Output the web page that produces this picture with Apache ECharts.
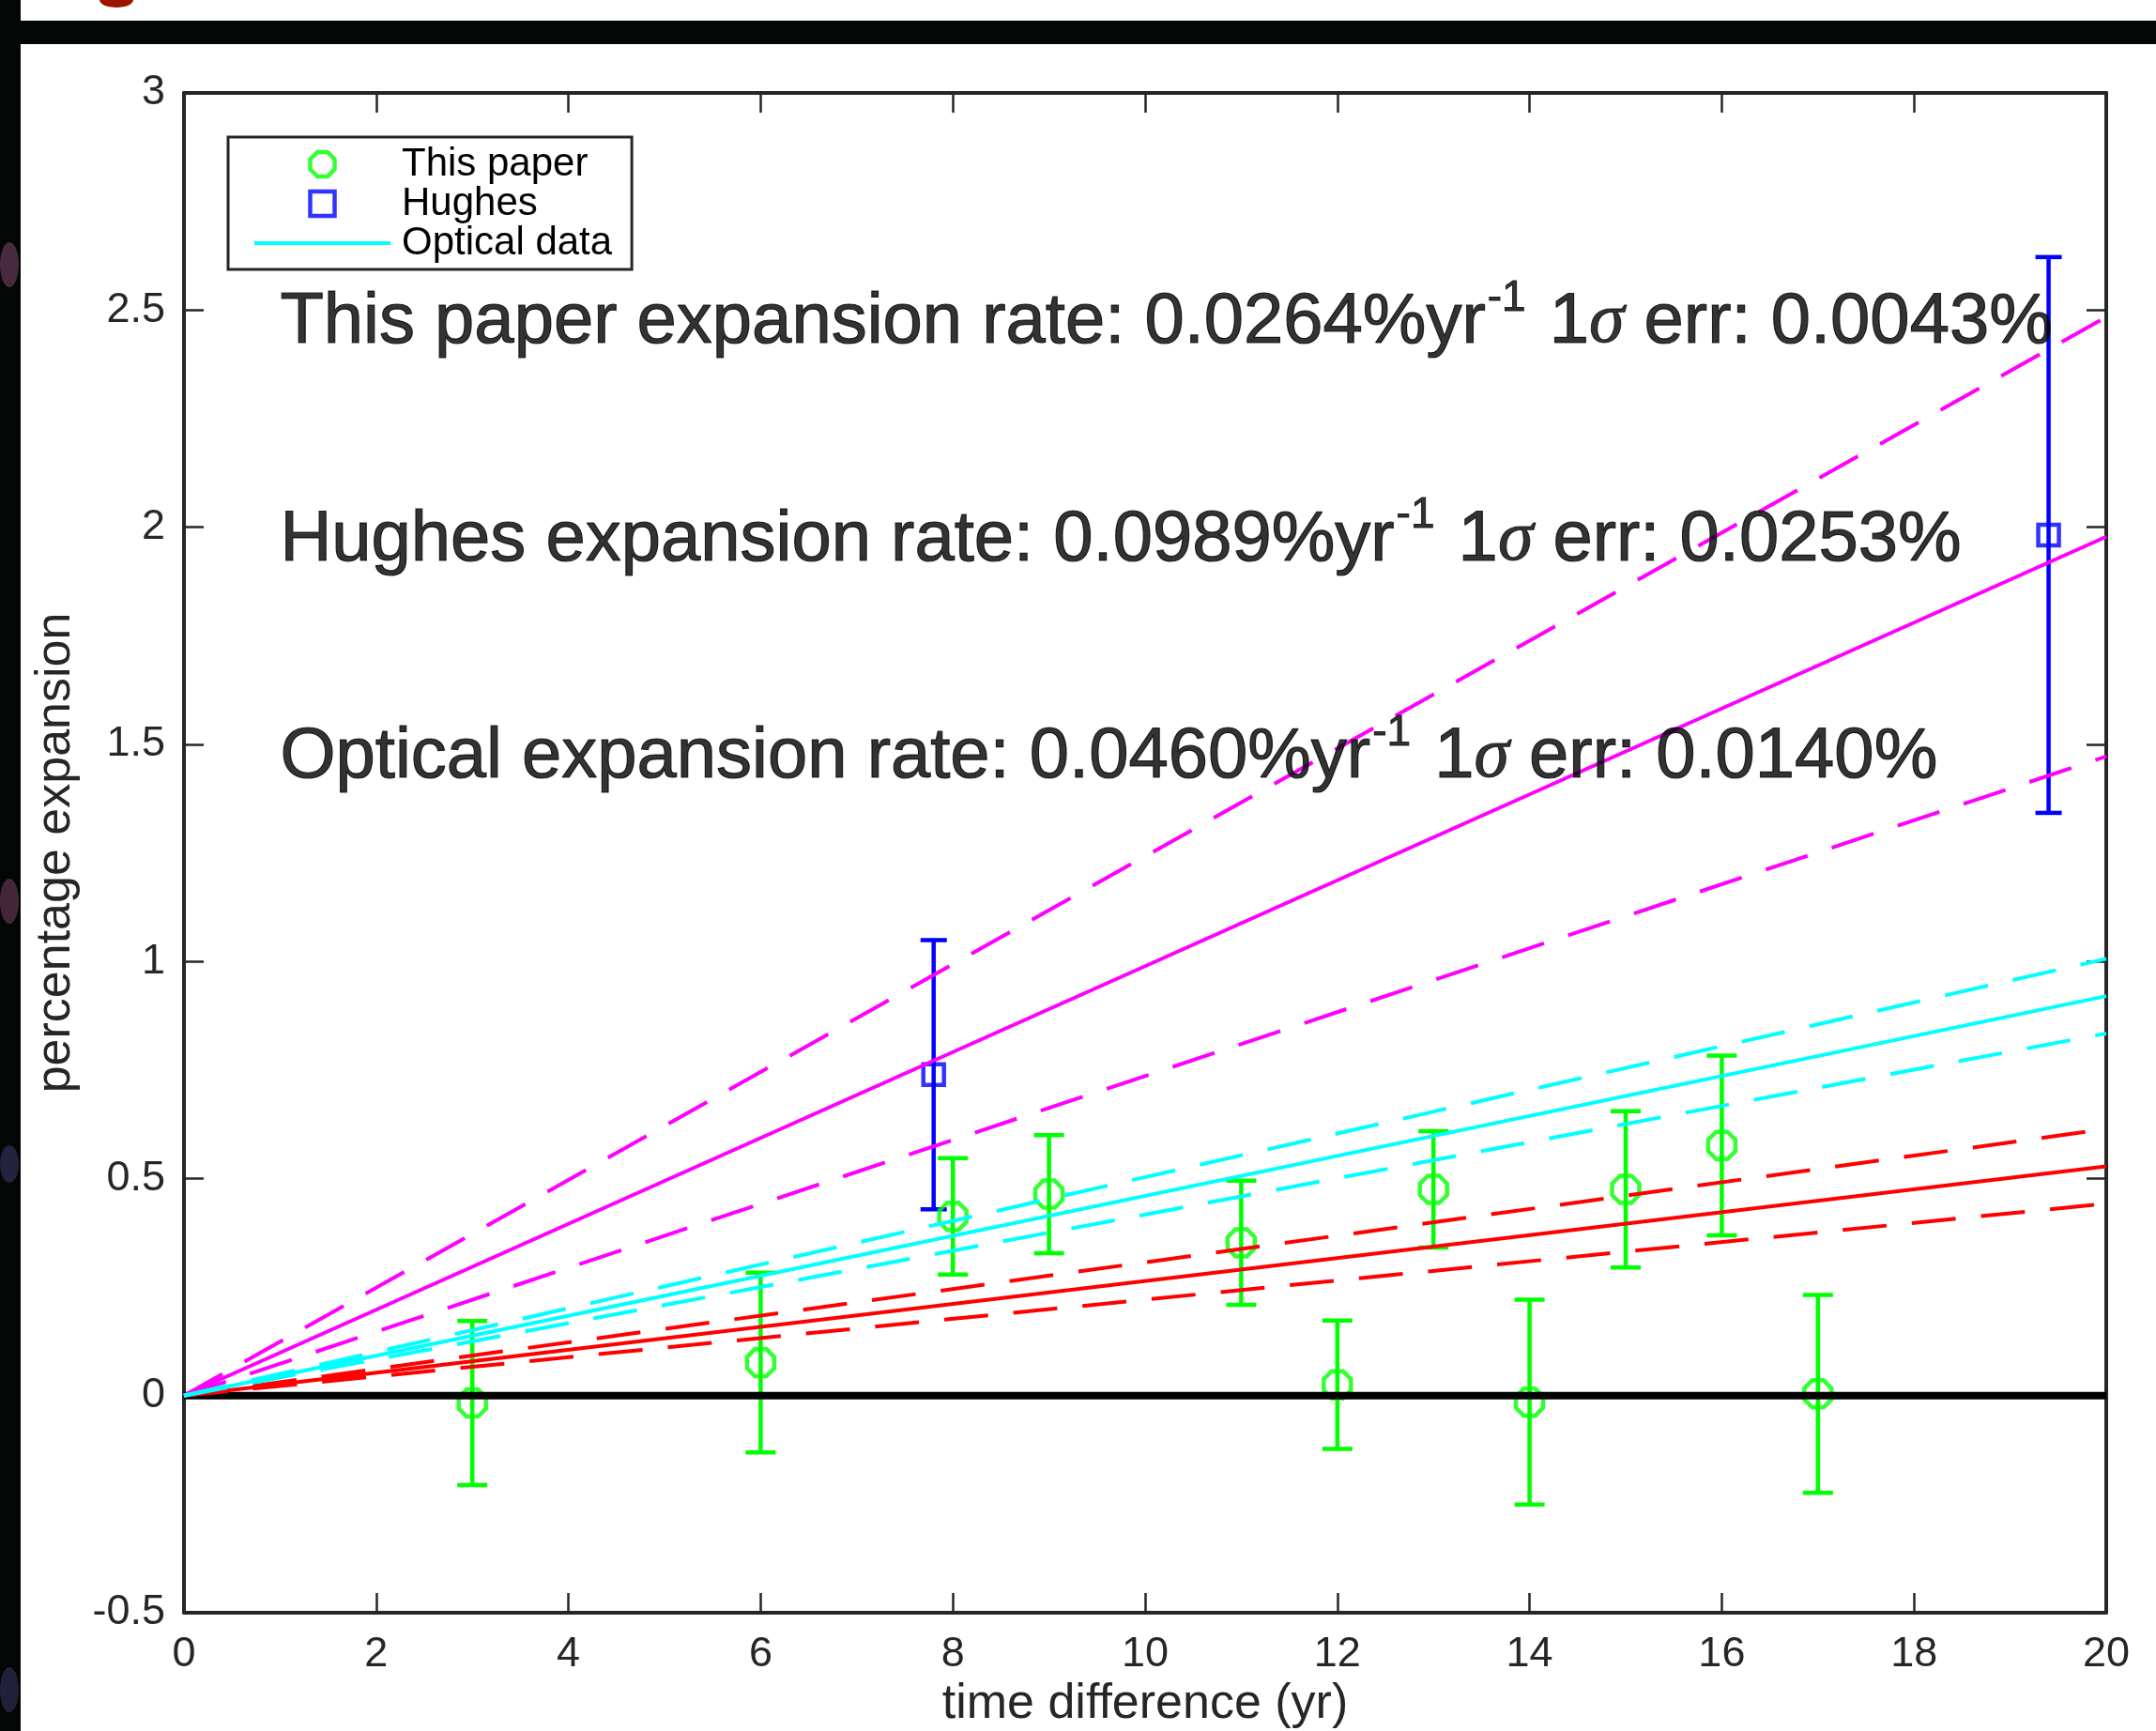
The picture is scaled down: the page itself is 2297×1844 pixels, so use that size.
<!DOCTYPE html>
<html>
<head>
<meta charset="utf-8">
<script src="https://cdn.jsdelivr.net/npm/echarts@6/dist/echarts.min.js"></script>
<style>
html, body { margin: 0; padding: 0; background: #ffffff; }
#chart { width: 2297px; height: 1844px; }
</style>
</head>
<body>
<div id="chart"></div>
<script>
// Percentage expansion measured in this paper, per epoch separation (yr), with 1-sigma errors
const paperYears = [3, 6, 8, 9, 11, 12, 13, 14, 15, 16, 17];
const paperExpansion = [-0.017, 0.076, 0.413, 0.464, 0.352, 0.025, 0.475, -0.015, 0.475, 0.576, 0.004];
const paperError = [0.189, 0.207, 0.134, 0.136, 0.143, 0.148, 0.134, 0.236, 0.180, 0.207, 0.228];

// Hughes measurements
const hughesYears = [7.8, 19.4];
const hughesExpansion = [0.739, 1.982];
const hughesError = [0.31, 0.64];

// Fitted expansion rates (% per yr) and their quoted 1-sigma errors
const fitNames = ['This paper', 'Hughes', 'Optical'];
const fitRates = [0.0264, 0.0989, 0.0460];
const fitErrors = [0.0043, 0.0253, 0.0140];
// Rate spread (% per yr) of the dashed lines drawn either side of each fit
const bandSpread = [0.0043, 0.0253, 0.0043];

// Axis ranges and tick steps
const xRange = [0, 20];
const xStep = 2;
const yRange = [-0.5, 3];
const yStep = 0.5;

const SANS = '"Liberation Sans", Helvetica, Arial, sans-serif';
const AXIS_COLOR = '#262626';
const FIT_COLORS = ['#ff0000', '#ff00ff', '#00ffff'];
const OCTAGON = 'path://M-0.383,-0.924L0.383,-0.924L0.924,-0.383L0.924,0.383L0.383,0.924L-0.383,0.924L-0.924,0.383L-0.924,-0.383Z';
const SQUARE = 'path://M0,0L1,0L1,1L0,1Z';

// Vertical error bars with flat caps
function errorBars(name, xs, ys, errs, color, capHalf) {
  return {
    type: 'custom',
    name: name,
    silent: true,
    data: xs.map((x, i) => [x, ys[i], errs[i]]),
    encode: { x: 0, y: 1 },
    renderItem: function (params, api) {
      const x = api.value(0), y = api.value(1), e = api.value(2);
      const hi = api.coord([x, y + e]);
      const lo = api.coord([x, y - e]);
      const style = { stroke: color, lineWidth: 4.5, fill: null };
      return {
        type: 'group',
        children: [
          { type: 'line', shape: { x1: hi[0], y1: hi[1], x2: lo[0], y2: lo[1] }, style: style },
          { type: 'line', shape: { x1: hi[0] - capHalf, y1: hi[1], x2: hi[0] + capHalf, y2: hi[1] }, style: style },
          { type: 'line', shape: { x1: lo[0] - capHalf, y1: lo[1], x2: lo[0] + capHalf, y2: lo[1] }, style: style }
        ]
      };
    }
  };
}

// Straight line through the origin with the given slope
function fitLine(name, slope, color, dashed) {
  return {
    type: 'line',
    name: name,
    silent: true,
    symbol: 'none',
    data: [[xRange[0], 0], [xRange[1], slope * xRange[1]]],
    itemStyle: { color: color },
    lineStyle: { color: color, width: 4, type: dashed ? [47, 27] : 'solid', cap: 'butt' }
  };
}

const series = [];
series.push(errorBars('This paper errors', paperYears, paperExpansion, paperError, '#00ff00', 16));
series.push({
  type: 'scatter',
  name: 'This paper',
  silent: true,
  symbol: OCTAGON,
  symbolSize: 29,
  data: paperYears.map((x, i) => [x, paperExpansion[i]]),
  itemStyle: { color: 'transparent', borderColor: '#00ff00', borderWidth: 4.5 }
});
series.push(errorBars('Hughes errors', hughesYears, hughesExpansion, hughesError, '#0000ff', 14));
series.push({
  type: 'scatter',
  name: 'Hughes',
  silent: true,
  symbol: 'rect',
  symbolSize: 22,
  data: hughesYears.map((x, i) => [x, hughesExpansion[i]]),
  itemStyle: { color: 'transparent', borderColor: '#0000ff', borderWidth: 4.5 }
});
// Zero-expansion reference line
series.push({
  type: 'line',
  name: 'zero',
  silent: true,
  symbol: 'none',
  data: [[xRange[0], 0], [xRange[1], 0]],
  lineStyle: { color: '#000000', width: 8 }
});
fitNames.forEach((fit, i) => {
  const color = FIT_COLORS[i];
  const solidName = fit === 'Optical' ? 'Optical data' : fit + ' fit';
  series.push(fitLine(solidName, fitRates[i], color, false));
  series.push(fitLine(fit + ' upper', fitRates[i] + bandSpread[i], color, true));
  series.push(fitLine(fit + ' lower', fitRates[i] - bandSpread[i], color, true));
});
// Rate annotations
series.push({
  type: 'scatter',
  name: 'rates',
  silent: true,
  symbolSize: 0,
  z: 6,
  data: fitNames.map((fit, i) => ({
    value: [1, 2.5 - 0.5 * i],
    text: fit + ' expansion rate: ' + fitRates[i].toFixed(4) + '%yr{sup|-1} 1{sig|\u03c3} err: ' + fitErrors[i].toFixed(4) + '%'
  })),
  label: {
    show: true,
    position: 'right',
    distance: 0,
    offset: [0, 14],
    color: '#000000',
    textBorderColor: '#000000',
    textBorderWidth: 1.2,
    fontFamily: SANS,
    fontSize: 76,
    formatter: function (p) { return p.data.text; },
    rich: {
      sup: { fontFamily: SANS, fontSize: 46, color: '#000000', textBorderColor: '#000000', textBorderWidth: 1, padding: [0, 4, 52, 2] },
      sig: { fontFamily: '"Liberation Serif", "Times New Roman", serif', fontStyle: 'italic', fontSize: 76, color: '#000000', textBorderColor: '#000000', textBorderWidth: 1 }
    }
  }
});

function valueAxis(range, step, position, extra) {
  return Object.assign({
    type: 'value',
    position: position,
    min: range[0],
    max: range[1],
    interval: step,
    splitLine: { show: false },
    axisLine: { show: true, onZero: false, lineStyle: { color: AXIS_COLOR, width: 4 } },
    axisTick: { show: true, inside: true, length: 21, lineStyle: { color: AXIS_COLOR, width: 2.5 } },
    axisLabel: { show: false }
  }, extra || {});
}

const chart = echarts.init(document.getElementById('chart'), null, { renderer: 'canvas' });
chart.setOption({
  animation: false,
  backgroundColor: '#ffffff',
  grid: { left: 196, right: 53, top: 99, bottom: 126, containLabel: false, outerBoundsMode: 'none' },
  xAxis: [
    valueAxis(xRange, xStep, 'bottom', {
      axisLabel: { show: true, color: AXIS_COLOR, fontFamily: SANS, fontSize: 45, margin: 22 },
      name: 'time difference (yr)',
      nameLocation: 'middle',
      nameGap: 70,
      nameTextStyle: { color: AXIS_COLOR, fontFamily: SANS, fontSize: 52 }
    }),
    valueAxis(xRange, xStep, 'top')
  ],
  yAxis: [
    valueAxis(yRange, yStep, 'left', {
      axisLabel: { show: true, color: AXIS_COLOR, fontFamily: SANS, fontSize: 45, margin: 20 },
      name: 'percentage expansion',
      nameLocation: 'middle',
      nameGap: 110,
      nameRotate: 90,
      nameTextStyle: { color: AXIS_COLOR, fontFamily: SANS, fontSize: 52 }
    }),
    valueAxis(yRange, yStep, 'right')
  ],
  legend: {
    show: true,
    orient: 'vertical',
    left: 243,
    top: 146,
    selectedMode: false,
    backgroundColor: '#ffffff',
    borderColor: AXIS_COLOR,
    borderWidth: 3,
    padding: [8, 21, 7, 26],
    itemGap: 0,
    itemWidth: 145,
    itemHeight: 26,
    textStyle: { color: '#000000', fontFamily: SANS, fontSize: 42, lineHeight: 40, padding: [0, 0, 0, 7] },
    data: [
      { name: 'This paper', icon: OCTAGON, itemStyle: { color: 'transparent', borderColor: '#00ff00', borderWidth: 4.5 } },
      { name: 'Hughes', icon: SQUARE, itemStyle: { color: 'transparent', borderColor: '#0000ff', borderWidth: 4.5 } },
      { name: 'Optical data', itemStyle: { color: 'transparent', borderColor: 'transparent', borderWidth: 0 }, lineStyle: { color: '#00ffff', width: 4, type: 'solid' } }
    ]
  },
  graphic: [
    { type: 'rect', silent: true, z: -10, shape: { x: 0, y: 22, width: 2297, height: 25 }, style: { fill: '#020604' } },
    { type: 'rect', silent: true, z: -10, shape: { x: 0, y: 0, width: 22, height: 1844 }, style: { fill: '#020604' } },
    { type: 'ellipse', silent: true, z: -9, shape: { cx: 10, cy: 282, rx: 10, ry: 24 }, style: { fill: 'rgba(205,110,170,0.35)' } },
    { type: 'ellipse', silent: true, z: -9, shape: { cx: 10, cy: 960, rx: 10, ry: 24 }, style: { fill: 'rgba(205,110,170,0.32)' } },
    { type: 'ellipse', silent: true, z: -9, shape: { cx: 10, cy: 1240, rx: 10, ry: 20 }, style: { fill: 'rgba(120,100,200,0.3)' } },
    { type: 'ellipse', silent: true, z: -9, shape: { cx: 10, cy: 1800, rx: 10, ry: 24 }, style: { fill: 'rgba(110,90,190,0.3)' } },
    { type: 'ellipse', silent: true, z: -9, shape: { cx: 124, cy: 0, rx: 18, ry: 8 }, style: { fill: '#9c1300' } }
  ],
  series: series
});
</script>
</body>
</html>
